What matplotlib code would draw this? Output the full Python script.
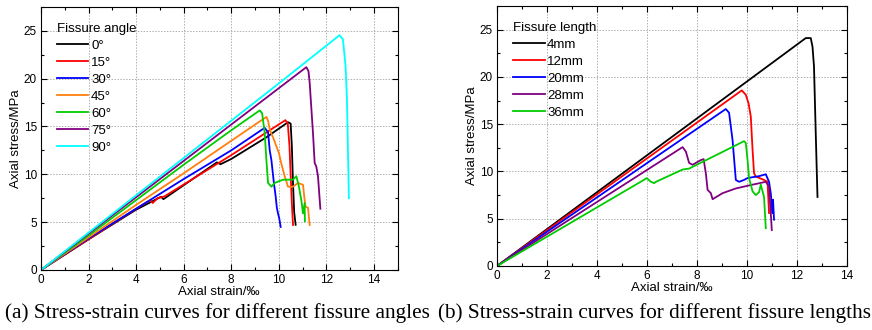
import matplotlib
matplotlib.use("Agg")
import matplotlib.pyplot as plt
from matplotlib.ticker import MultipleLocator

# ---- Panel (a): fissure angle ----
angle_labels = ["0°", "15°", "30°", "45°", "60°", "75°", "90°"]
angle_colors = ["#000000", "#ff0000", "#0000ff", "#ff7f0e", "#00cc00", "#800080", "#00ffff"]

strain_0 = [0, 2.0, 4.0, 5.05, 5.15, 7.4, 7.55, 8.0, 9.5, 10.39, 10.5, 10.55, 10.6, 10.65, 10.71]
stress_0 = [0, 3.2, 6.3, 7.65, 7.4, 11.25, 11.05, 11.6, 13.9, 15.45, 15.3, 13.0, 9.0, 6.0, 4.72]

strain_15 = [0, 2.0, 4.0, 4.6, 4.7, 4.9, 5.2, 8.0, 10.28, 10.38, 10.45, 10.5, 10.55, 10.6]
stress_15 = [0, 3.2, 6.4, 7.3, 7.0, 7.5, 7.7, 12.0, 15.66, 15.3, 13.0, 10.0, 7.0, 4.7]

strain_30 = [0, 2.0, 4.0, 6.0, 8.0, 9.41, 9.55, 9.62, 9.69, 9.8, 9.87, 9.92, 9.97, 10.02, 10.08]
stress_30 = [0, 3.3, 6.4, 9.5, 12.5, 14.86, 14.4, 12.5, 11.5, 9.0, 7.7, 6.5, 5.9, 5.4, 4.5]

strain_45 = [0, 2.0, 4.0, 6.0, 8.0, 9.48, 9.55, 9.62, 9.8, 10.01, 10.1, 10.25, 10.39, 10.6, 10.81, 11.02, 11.08, 11.13, 11.23, 11.3]
stress_45 = [0, 3.4, 6.8, 10.1, 13.5, 16.0, 15.6, 14.7, 13.6, 12.2, 11.2, 9.8, 8.7, 8.7, 9.1, 8.9, 7.5, 6.6, 6.5, 4.7]

strain_60 = [0, 2.0, 4.0, 6.0, 8.0, 9.2, 9.3, 9.41, 9.48, 9.55, 9.69, 9.83, 10.18, 10.6, 10.74, 10.85, 10.95, 11.02, 11.09, 11.1]
stress_60 = [0, 3.6, 7.3, 11.0, 14.6, 16.68, 16.4, 14.3, 11.5, 9.1, 8.7, 9.1, 9.44, 9.44, 9.8, 8.7, 7.3, 5.9, 7.0, 5.1]

strain_75 = [0, 2.0, 4.0, 6.0, 8.0, 11.16, 11.25, 11.3, 11.44, 11.51, 11.58, 11.65, 11.75]
stress_75 = [0, 3.8, 7.6, 11.4, 15.2, 21.2, 20.8, 19.6, 14.3, 11.2, 10.8, 9.8, 6.4]

strain_90 = [0, 2.0, 4.0, 6.0, 8.0, 10.0, 12.56, 12.7, 12.81, 12.87, 12.91, 12.95]
stress_90 = [0, 3.9, 7.8, 11.7, 15.6, 19.5, 24.55, 24.1, 21.3, 17.8, 12.6, 7.5]

angle_strain = [strain_0, strain_15, strain_30, strain_45, strain_60, strain_75, strain_90]
angle_stress = [stress_0, stress_15, stress_30, stress_45, stress_60, stress_75, stress_90]

# ---- Panel (b): fissure length ----
length_labels = ["4mm", "12mm", "20mm", "28mm", "36mm"]
length_colors = ["#000000", "#ff0000", "#0000ff", "#800080", "#00cc00"]

strain_4 = [0, 12.36, 12.56, 12.63, 12.69, 12.76, 12.83]
stress_4 = [0, 24.1, 24.1, 23.2, 21.1, 14.05, 7.3]

strain_12 = [0, 9.8, 9.96, 10.07, 10.16, 10.23, 10.29, 10.36, 10.69, 10.83, 10.89]
stress_12 = [0, 18.57, 18.1, 17.2, 15.8, 12.3, 9.8, 9.46, 9.1, 8.9, 5.6]

strain_20 = [0, 9.16, 9.29, 9.43, 9.56, 9.69, 9.89, 10.03, 10.49, 10.76, 10.89, 10.96, 11.03, 11.05, 11.09]
stress_20 = [0, 16.6, 16.2, 13.3, 9.1, 8.9, 9.1, 9.3, 9.5, 9.7, 8.9, 7.7, 5.6, 7.0, 4.9]

strain_28 = [0, 7.43, 7.56, 7.69, 7.83, 7.96, 8.16, 8.27, 8.36, 8.43, 8.56, 8.63, 9.03, 9.56, 10.23, 10.76, 10.89, 10.96, 11.0]
stress_28 = [0, 12.57, 12.1, 10.9, 10.7, 10.9, 11.2, 11.3, 9.8, 8.05, 7.7, 7.06, 7.7, 8.2, 8.6, 8.9, 8.4, 5.6, 3.8]

strain_36 = [0, 6.0, 6.16, 6.29, 6.36, 7.43, 7.69, 9.89, 9.96, 10.03, 10.09, 10.23, 10.36, 10.49, 10.56, 10.63, 10.69, 10.76]
stress_36 = [0, 9.29, 8.9, 8.76, 8.9, 10.2, 10.3, 13.2, 13.0, 11.2, 9.3, 7.9, 7.5, 7.8, 8.6, 7.9, 7.3, 4.0]

length_strain = [strain_4, strain_12, strain_20, strain_28, strain_36]
length_stress = [stress_4, stress_12, stress_20, stress_28, stress_36]

captions = ["(a) Stress-strain curves for different fissure angles",
            "(b) Stress-strain curves for different fissure lengths"]

plt.rcParams['font.family'] = ['Liberation Sans', 'DejaVu Sans']

fig = plt.figure(figsize=(8.72, 3.3), dpi=100)
ax1 = fig.add_axes([0.047, 0.182, 0.409, 0.797])
ax2 = fig.add_axes([0.570, 0.194, 0.401, 0.788])


def style(ax, xmax, title):
    ax.set_xlim(0, xmax)
    ax.set_ylim(0, 27.5)
    ax.xaxis.set_major_locator(MultipleLocator(2))
    ax.xaxis.set_minor_locator(MultipleLocator(1))
    ax.yaxis.set_major_locator(MultipleLocator(5))
    ax.yaxis.set_minor_locator(MultipleLocator(2.5))
    ax.tick_params(which='both', direction='in', top=True, right=True, labelsize=8.5, pad=3)
    ax.tick_params(which='major', length=4, width=0.8)
    ax.tick_params(which='minor', length=2.5, width=0.8)
    ax.grid(True, which='major', linestyle=(0, (1.5, 1.5)), color='#b0b0b0', linewidth=0.7)
    ax.set_axisbelow(True)
    ax.set_xlabel("Axial strain/‰", fontsize=9.5, labelpad=0)
    ax.set_ylabel("Axial stress/MPa", fontsize=9.5, labelpad=1)
    leg = ax.legend(title=title, loc='upper left', frameon=False, fontsize=9.5,
                    title_fontsize=9.5, handlelength=2.4, handletextpad=0.2,
                    labelspacing=0.36, borderaxespad=0.8, bbox_to_anchor=(0.0, 1.0))
    leg._legend_box.align = "left"
    for s in ax.spines.values():
        s.set_linewidth(0.8)


for xs, ys, lab, c in zip(angle_strain, angle_stress, angle_labels, angle_colors):
    ax1.plot(xs, ys, color=c, lw=1.3, label=lab)
style(ax1, 15, "Fissure angle")

for xs, ys, lab, c in zip(length_strain, length_stress, length_labels, length_colors):
    ax2.plot(xs, ys, color=c, lw=1.3, label=lab)
style(ax2, 14, "Fissure length")

fig.text(0.249, 0.052, captions[0], ha='center', va='center', fontsize=15.3, family='Liberation Serif')
fig.text(0.750, 0.052, captions[1], ha='center', va='center', fontsize=15.3, family='Liberation Serif')

fig.savefig("out.png", dpi=100)
